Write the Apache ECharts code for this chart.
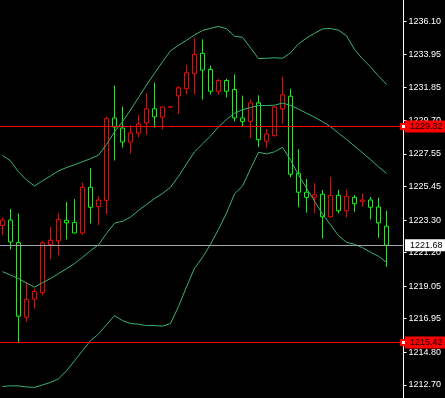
<!DOCTYPE html>
<html>
<head>
<meta charset="utf-8">
<script src="https://cdn.jsdelivr.net/npm/echarts@6/dist/echarts.min.js"></script>
<style>
html,body{margin:0;padding:0;background:#000;}
#chart{width:445px;height:398px;}
</style>
</head>
<body>
<div id="chart"></div>
<script>
var opens = [1222.95, 1223.30, 1221.85, 1217.04, 1218.21, 1218.62, 1221.72, 1221.96, 1223.28, 1223.15, 1222.47, 1225.41, 1224.17, 1224.57, 1229.87, 1229.22, 1228.32, 1228.90, 1229.55, 1230.46, 1229.92, 1230.57, 1231.29, 1231.75, 1232.72, 1234.03, 1232.99, 1231.59, 1232.28, 1231.70, 1229.87, 1229.65, 1230.84, 1228.37, 1228.73, 1230.45, 1231.27, 1226.31, 1225.09, 1224.76, 1224.96, 1223.51, 1224.89, 1223.90, 1224.76, 1224.50, 1224.59, 1224.14, 1222.91];
var closes = [1223.30, 1221.89, 1217.11, 1218.19, 1218.70, 1221.83, 1222.00, 1223.34, 1223.12, 1222.47, 1225.41, 1224.12, 1224.59, 1229.83, 1229.29, 1228.32, 1228.90, 1229.48, 1230.46, 1229.94, 1230.58, 1230.58, 1231.81, 1232.78, 1233.96, 1232.95, 1231.59, 1232.28, 1231.59, 1229.87, 1229.65, 1230.84, 1228.47, 1228.84, 1230.58, 1231.36, 1226.25, 1225.09, 1224.76, 1224.93, 1223.51, 1224.89, 1223.90, 1224.83, 1224.35, 1224.59, 1224.12, 1223.12, 1221.68];
var lows = [1222.33, 1221.42, 1215.40, 1216.76, 1217.60, 1218.45, 1220.77, 1221.03, 1222.05, 1222.45, 1222.34, 1223.08, 1222.97, 1223.66, 1227.13, 1227.97, 1227.58, 1228.62, 1228.79, 1229.24, 1229.13, 1230.57, 1230.12, 1231.38, 1231.38, 1231.05, 1231.38, 1231.38, 1231.20, 1229.65, 1229.33, 1228.58, 1228.00, 1227.93, 1228.68, 1229.48, 1226.06, 1224.12, 1223.77, 1223.73, 1222.11, 1223.47, 1223.73, 1223.47, 1223.83, 1224.16, 1223.34, 1222.15, 1220.28];
var highs = [1223.47, 1224.01, 1223.73, 1219.31, 1218.88, 1221.96, 1222.86, 1223.73, 1224.46, 1224.65, 1225.71, 1226.64, 1224.85, 1229.97, 1231.96, 1230.60, 1229.39, 1230.08, 1231.47, 1232.14, 1230.58, 1230.58, 1231.93, 1233.27, 1235.00, 1234.93, 1233.25, 1232.39, 1232.39, 1232.67, 1231.31, 1231.05, 1231.33, 1229.16, 1230.58, 1232.52, 1231.75, 1227.87, 1225.95, 1225.67, 1225.24, 1226.06, 1225.24, 1225.24, 1224.91, 1225.02, 1224.78, 1224.74, 1223.90];

var upperBand = [1227.46, 1227.11, 1226.40, 1225.88, 1225.49, 1225.83, 1226.14, 1226.46, 1226.68, 1226.86, 1227.05, 1227.25, 1227.47, 1228.16, 1228.98, 1229.63, 1230.38, 1231.18, 1231.99, 1232.74, 1233.48, 1234.19, 1234.55, 1234.87, 1235.21, 1235.50, 1235.64, 1235.76, 1235.61, 1235.13, 1235.06, 1234.38, 1233.69, 1233.71, 1233.74, 1233.71, 1234.06, 1234.64, 1235.01, 1235.32, 1235.60, 1235.63, 1235.52, 1235.16, 1234.28, 1233.67, 1233.16, 1232.57, 1232.02];
var middleBand = [1219.98, 1219.76, 1219.53, 1219.25, 1218.98, 1219.27, 1219.54, 1219.85, 1220.17, 1220.50, 1220.90, 1221.33, 1221.71, 1222.44, 1223.10, 1223.22, 1223.49, 1223.92, 1224.30, 1224.68, 1225.01, 1225.41, 1226.11, 1226.91, 1227.69, 1228.20, 1228.71, 1229.29, 1229.77, 1230.17, 1230.40, 1230.54, 1230.67, 1230.67, 1230.69, 1230.83, 1230.68, 1230.44, 1230.18, 1229.92, 1229.63, 1229.31, 1228.89, 1228.49, 1228.06, 1227.63, 1227.19, 1226.73, 1226.30];
var lowerBand = [1212.59, 1212.63, 1212.63, 1212.56, 1212.53, 1212.69, 1212.85, 1213.08, 1213.60, 1214.24, 1214.89, 1215.54, 1215.96, 1216.57, 1217.15, 1216.83, 1216.64, 1216.60, 1216.51, 1216.51, 1216.47, 1216.64, 1217.73, 1219.00, 1220.19, 1220.90, 1221.74, 1222.71, 1223.75, 1224.98, 1225.49, 1226.59, 1227.66, 1227.56, 1227.69, 1227.98, 1227.17, 1226.20, 1225.36, 1224.52, 1223.68, 1223.00, 1222.29, 1221.87, 1221.74, 1221.52, 1221.23, 1220.97, 1220.58];

var tickLabels = [1212.70, 1214.80, 1216.95, 1219.05, 1221.20, 1223.30, 1225.45, 1227.55, 1229.70, 1231.85, 1233.95, 1236.10];
var redLevels = [1229.32, 1215.42];
var bidLevel = 1221.68;

var FONT = 'Liberation Sans';
var candles = opens.map(function (o, i) { return [i, o, closes[i], lows[i], highs[i]]; });
function band(arr) { return arr.map(function (v, i) { return [i, v]; }); }
function bandSeries(arr, extra) {
  var s = {
    type: 'line', data: band(arr), symbol: 'none', smooth: false, z: 3,
    lineStyle: { color: '#3cb371', width: 1 }, silent: true, animation: false
  };
  if (extra) for (var k in extra) s[k] = extra[k];
  return s;
}
function lvlLabel(bg) {
  return {
    show: true, position: 'end', distance: 1.5,
    formatter: function (p) { return Number(p.value).toFixed(2); },
    color: '#000', backgroundColor: bg, fontFamily: FONT, fontSize: 9,
    lineHeight: 10, padding: [1, 8, 1, 5]
  };
}

var chart = echarts.init(document.getElementById('chart'), null, { renderer: 'canvas' });
chart.setOption({
  backgroundColor: '#000',
  animation: false,
  grid: { left: 0, right: 41.5, top: 0, bottom: 0, containLabel: false },
  xAxis: {
    type: 'value', min: -0.3125, max: 50.125, show: false,
    axisLine: { show: false, onZero: false }, axisTick: { show: false },
    axisLabel: { show: false }, splitLine: { show: false }
  },
  yAxis: {
    type: 'value', position: 'right', min: 1211.8485, max: 1237.4605, scale: true,
    splitLine: { show: false },
    axisLine: { show: true, onZero: false, lineStyle: { color: '#fff', width: 1 } },
    axisTick: { show: true, inside: false, length: 3, lineStyle: { color: '#fff' }, customValues: tickLabels },
    axisLabel: {
      show: true, color: '#fff', fontFamily: FONT, fontSize: 9, margin: 5,
      customValues: tickLabels,
      formatter: function (v) { return Number(v).toFixed(2); }
    }
  },
  series: [
    {
      type: 'candlestick', data: candles, encode: { x: 0, y: [1, 2, 3, 4] },
      barWidth: 5, z: 2, silent: true,
      itemStyle: {
        color: 'transparent', color0: 'transparent',
        borderColor: '#ff0000', borderColor0: '#00ff00', borderWidth: 1
      },
      markLine: {
        silent: true, animation: false, symbol: ['none', 'emptyRect'], symbolSize: 5,
        lineStyle: { color: '#ff0000', width: 1, type: 'solid' },
        label: lvlLabel('#ff0000'),
        data: redLevels.map(function (v) { return { yAxis: v }; })
      }
    },
    bandSeries(upperBand),
    bandSeries(middleBand),
    bandSeries(lowerBand, {
      markLine: {
        silent: true, animation: false, symbol: ['none', 'none'],
        lineStyle: { color: '#a0a4ac', width: 1, type: 'solid' },
        label: lvlLabel('#ffffff'),
        data: [{ yAxis: bidLevel }]
      }
    })
  ]
});
</script>
</body>
</html>
